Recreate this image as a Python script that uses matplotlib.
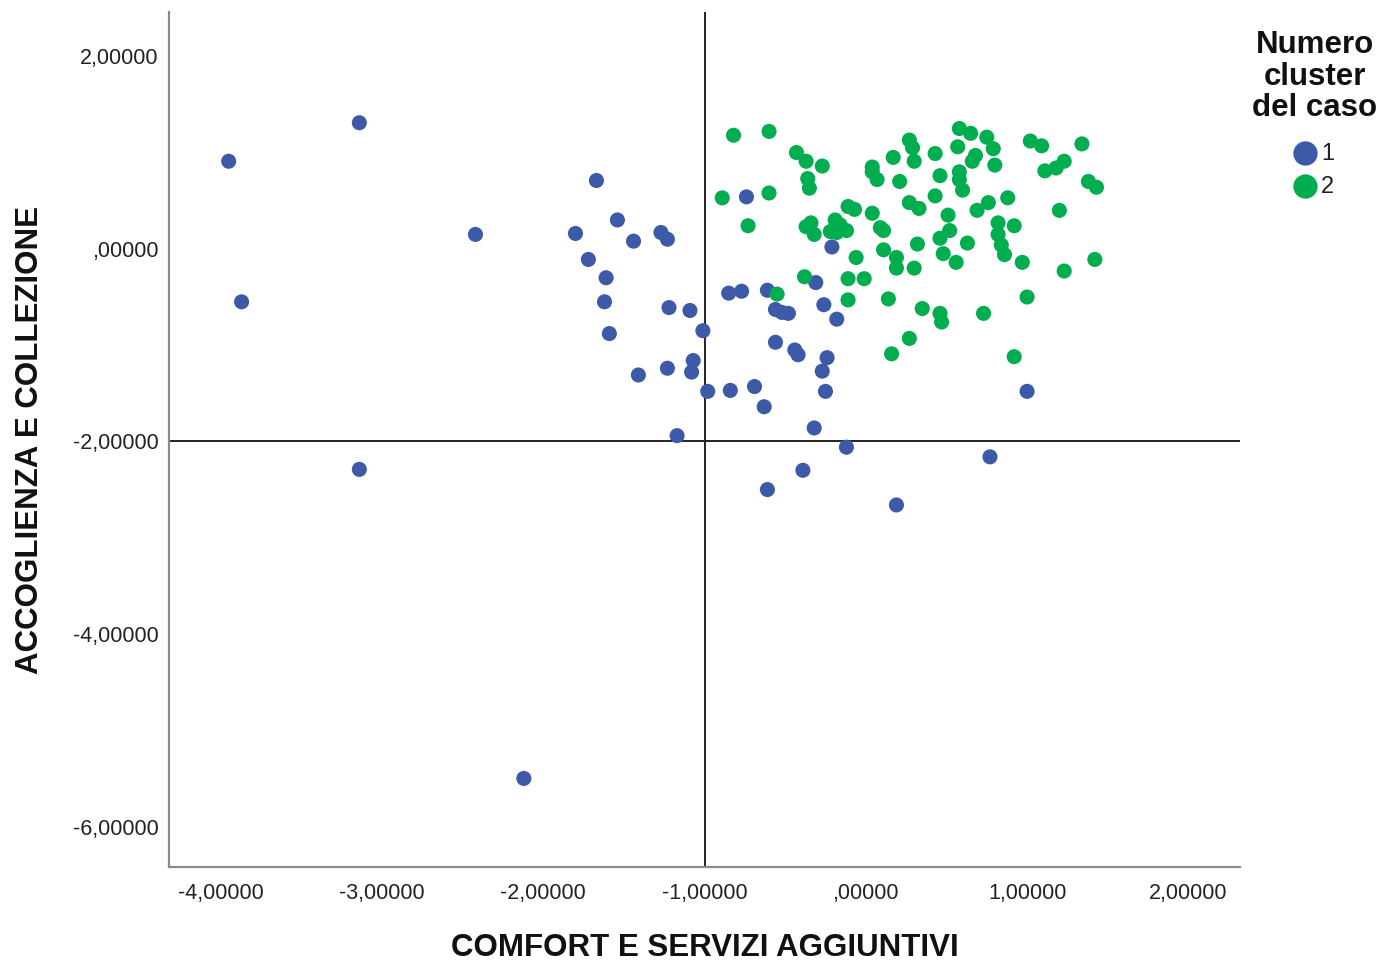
import matplotlib
matplotlib.use("Agg")
import matplotlib.pyplot as plt
from matplotlib.lines import Line2D
from matplotlib.ticker import FixedLocator, FuncFormatter

plt.rcParams["font.family"] = ["Liberation Sans", "DejaVu Sans"]

# Cluster 1 cases: (comfort, accoglienza)
c1_x = [-3.95, -3.14, -2.42, -3.87, -3.14, -2.12, -1.67, -1.80, -1.54, -1.72,
        -1.44, -1.27, -1.23, -1.61, -1.62, -1.59, -1.22, -1.09, -1.01, -1.41,
        -1.23, -1.07, -1.08, -0.98, -0.84, -0.69, -0.63, -1.17, -0.74, -0.85,
        -0.77, -0.61, -0.56, -0.52, -0.48, -0.56, -0.44, -0.42, -0.31, -0.26,
        -0.18, -0.21, -0.24, -0.27, -0.25, -0.32, -0.12, -0.39, -0.61, 0.19,
        0.77, 1.00]
c1_y = [0.91, 1.31, 0.15, -0.55, -2.29, -5.50, 0.71, 0.16, 0.30, -0.11,
        0.08, 0.17, 0.10, -0.30, -0.55, -0.88, -0.61, -0.64, -0.85, -1.31,
        -1.24, -1.16, -1.28, -1.48, -1.47, -1.43, -1.64, -1.94, 0.54, -0.46,
        -0.44, -0.43, -0.63, -0.66, -0.67, -0.97, -1.05, -1.10, -0.35, -0.58,
        -0.73, 0.02, -1.13, -1.27, -1.48, -1.86, -2.06, -2.30, -2.50, -2.66,
        -2.16, -1.48]

# Cluster 2 cases
c2_x = [-0.82, -0.60, -0.89, -0.60, -0.73, -0.43, -0.37, -0.27, -0.36, -0.35,
        0.04, 0.04, 0.07, -0.11, -0.07, 0.04, -0.34, -0.37, -0.32, -0.19,
        -0.16, -0.22, -0.18, -0.12, 0.09, 0.11, 0.11, -0.06, -0.38, -0.11,
        -0.01, -0.55, -0.11, 0.58, 0.65, 0.75, 0.79, 1.02, 1.09, 1.34,
        0.27, 0.29, 0.30, 0.17, 0.43, 0.57, 0.68, 0.66, 0.80, 1.23,
        1.18, 1.11, 0.21, 0.46, 0.58, 0.58, 0.60, 0.43, 0.88, 1.38,
        1.43, 0.27, 0.33, 0.51, 0.69, 0.76, 1.20, 0.52, 0.46, 0.63,
        0.32, 0.82, 0.82, 0.84, 0.86, 0.92, 0.19, 0.19, 0.30, 0.48,
        0.56, 0.97, 1.23, 1.42, 0.14, 0.35, 0.46, 0.47, 0.73, 1.00,
        0.27, 0.16, 0.92]
c2_y = [1.18, 1.22, 0.53, 0.58, 0.24, 1.00, 0.91, 0.86, 0.73, 0.63,
        0.85, 0.80, 0.72, 0.44, 0.41, 0.37, 0.27, 0.23, 0.15, 0.30,
        0.25, 0.18, 0.17, 0.19, 0.22, 0.19, -0.01, -0.09, -0.29, -0.31,
        -0.31, -0.47, -0.53, 1.25, 1.20, 1.16, 1.04, 1.12, 1.07, 1.09,
        1.13, 1.05, 0.91, 0.95, 0.99, 1.06, 0.97, 0.91, 0.87, 0.91,
        0.84, 0.81, 0.70, 0.76, 0.80, 0.72, 0.61, 0.55, 0.53, 0.70,
        0.64, 0.48, 0.42, 0.35, 0.40, 0.48, 0.40, 0.19, 0.11, 0.06,
        0.05, 0.27, 0.15, 0.04, -0.06, 0.24, -0.09, -0.20, -0.20, -0.05,
        -0.14, -0.14, -0.23, -0.11, -0.52, -0.62, -0.67, -0.76, -0.67, -0.50,
        -0.93, -1.09, -1.12]

cluster_labels = ["1", "2"]
cluster_colors = ["#3D5AA9", "#00AE4F"]
legend_title = ["Numero", "cluster", "del caso"]

x_ticks = [-4, -3, -2, -1, 0, 1, 2]
y_ticks = [2, 0, -2, -4, -6]
x_ref = -1.0
y_ref = -2.0

W, H = 1380, 961


def spss_fmt(v, _pos=None):
    s = f"{v:.5f}".replace(".", ",")
    if s.startswith("0,"):
        s = s[1:]
    elif s.startswith("-0,"):
        s = s[2:]
    return s


def fx(px):
    return px / W


def fy(py):
    return 1 - py / H


fig = plt.figure(figsize=(W / 100, H / 100), dpi=100)
ax = fig.add_axes([fx(169), fy(867), (1240 - 169) / W, (867 - 12) / H])

ax.set_xlim(-4.32, 2.32)
ax.set_ylim(-6.42, 2.46)

ax.axvline(x_ref, color="#222222", lw=1.4, zorder=1)
ax.axhline(y_ref, color="#222222", lw=1.4, zorder=1)

ax.scatter(c1_x, c1_y, s=118, color=cluster_colors[0], edgecolors="none", zorder=3)
ax.scatter(c2_x, c2_y, s=118, color=cluster_colors[1], edgecolors="none", zorder=3)

for side in ("top", "right"):
    ax.spines[side].set_visible(False)
for side in ("left", "bottom"):
    ax.spines[side].set_color("#8a8a8a")
    ax.spines[side].set_linewidth(1.6)

ax.xaxis.set_major_locator(FixedLocator(x_ticks))
ax.yaxis.set_major_locator(FixedLocator(y_ticks))
ax.xaxis.set_major_formatter(FuncFormatter(spss_fmt))
ax.yaxis.set_major_formatter(FuncFormatter(spss_fmt))
ax.tick_params(axis="both", length=0, labelsize=15.5, labelcolor="#222222")
ax.tick_params(axis="x", pad=11.5)
ax.tick_params(axis="y", pad=7.5)

fig.text(fx(705), fy(948), "COMFORT E SERVIZI AGGIUNTIVI", ha="center",
         va="center", fontsize=22.5, fontweight="bold", color="#111111")
fig.text(fx(30), fy(440), "ACCOGLIENZA E COLLEZIONE", ha="center",
         va="center", rotation=90, fontsize=22.5, fontweight="bold", color="#111111")

# Legend: centred title lines, then one marker + label per cluster
for line, py in zip(legend_title, [45, 77, 108]):
    fig.text(fx(1315), fy(py), line, ha="center", va="center",
             fontsize=22.5, fontweight="bold", color="#111111")
for lab, col, py in zip(cluster_labels, cluster_colors, [153, 186]):
    fig.add_artist(Line2D([fx(1305)], [fy(py)], marker="o", markersize=17.5,
                          color=col, markeredgewidth=0, linestyle="none",
                          transform=fig.transFigure))
    fig.text(fx(1321), fy(py + 1), lab, ha="left", va="center",
             fontsize=17, color="#222222")

fig.savefig("out.png", dpi=100, facecolor="white")
